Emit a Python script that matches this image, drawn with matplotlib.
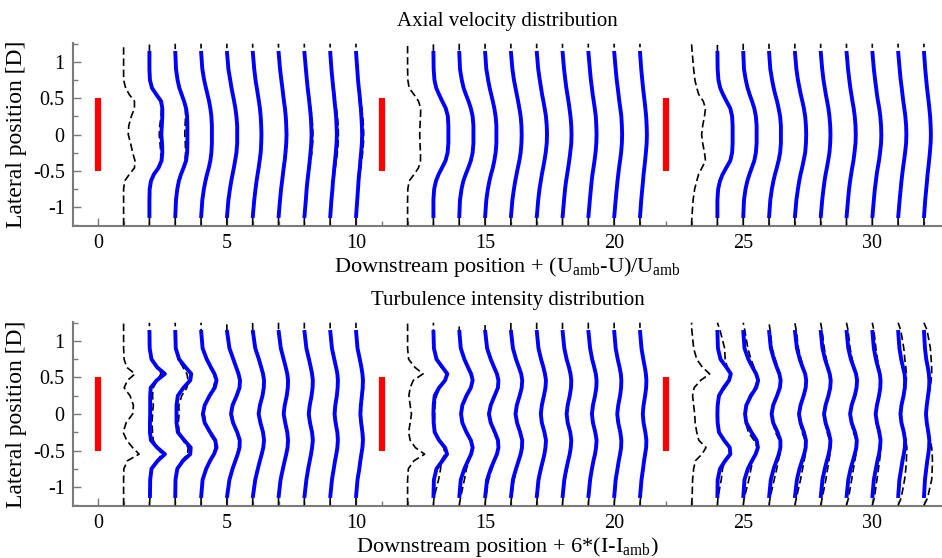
import matplotlib
matplotlib.use("Agg")
import matplotlib.pyplot as plt
import numpy as np
from matplotlib.ticker import MultipleLocator

# lateral positions [D], bottom to top
y_meas = [-1.25, -1.15, -0.9, -0.75, -0.64, -0.55, -0.46, -0.36, -0.25, -0.12, 0,
          0.12, 0.25, 0.36, 0.46, 0.55, 0.64, 0.75, 0.9, 1.15, 1.25]
y_sim = y_meas[1:-1]

turbine_x = [0, 11, 22]
meas_dist = [1, 2, 3, 4, 5, 6, 7, 8, 9, 10]
sim_dist = [2, 3, 4, 5, 6, 7, 8, 9, 10]

# ---- axial velocity deficit (Uamb-U)/Uamb, measured (dashed) ----
vel_meas_t1 = [
    [0, 0, 0, 0, 0.04, 0.22, 0.42, 0.44, 0.35, 0.27, 0.18, 0.2, 0.3, 0.42, 0.42, 0.22, 0.08, 0, 0, 0, 0],
    [0, 0, 0, 0.01, 0.06, 0.17, 0.34, 0.44, 0.44, 0.41, 0.38, 0.4, 0.45, 0.47, 0.42, 0.25, 0.1, 0.02, 0, 0, 0],
    [0, 0, 0.03, 0.08, 0.14, 0.22, 0.31, 0.38, 0.4, 0.39, 0.37, 0.38, 0.4, 0.4, 0.33, 0.24, 0.15, 0.08, 0.03, 0, 0],
    [0, 0, 0.05, 0.11, 0.17, 0.23, 0.3, 0.36, 0.4, 0.41, 0.41, 0.41, 0.39, 0.35, 0.3, 0.24, 0.18, 0.12, 0.05, 0, 0],
    [0, 0, 0.06, 0.12, 0.17, 0.22, 0.27, 0.33, 0.37, 0.4, 0.41, 0.4, 0.37, 0.33, 0.28, 0.23, 0.18, 0.13, 0.06, 0, 0],
    [0, 0, 0.06, 0.11, 0.15, 0.19, 0.24, 0.28, 0.32, 0.35, 0.36, 0.35, 0.32, 0.28, 0.24, 0.2, 0.16, 0.11, 0.06, 0, 0],
    [0, 0, 0.06, 0.1, 0.14, 0.18, 0.22, 0.26, 0.3, 0.33, 0.34, 0.33, 0.3, 0.27, 0.23, 0.19, 0.15, 0.11, 0.06, 0, 0],
    [0, 0, 0.06, 0.1, 0.13, 0.17, 0.21, 0.25, 0.29, 0.32, 0.33, 0.32, 0.29, 0.25, 0.21, 0.17, 0.14, 0.1, 0.06, 0, 0],
    [0, 0, 0.05, 0.09, 0.12, 0.16, 0.2, 0.24, 0.28, 0.31, 0.32, 0.31, 0.28, 0.24, 0.2, 0.17, 0.13, 0.09, 0.05, 0, 0],
    [0, 0, 0.05, 0.08, 0.11, 0.14, 0.18, 0.22, 0.26, 0.29, 0.3, 0.29, 0.26, 0.22, 0.19, 0.15, 0.12, 0.08, 0.05, 0, 0],
]
vel_meas_t2 = [
    [0, 0, 0, 0.01, 0.06, 0.25, 0.42, 0.5, 0.5, 0.48, 0.47, 0.48, 0.5, 0.51, 0.42, 0.25, 0.06, 0.01, 0, 0, 0],
    [0, 0, 0, 0.03, 0.1, 0.2, 0.33, 0.47, 0.55, 0.57, 0.57, 0.57, 0.55, 0.48, 0.34, 0.22, 0.11, 0.04, 0.01, 0, 0],
    [0, 0, 0.03, 0.09, 0.16, 0.25, 0.35, 0.45, 0.52, 0.55, 0.55, 0.55, 0.52, 0.45, 0.36, 0.26, 0.17, 0.1, 0.03, 0, 0],
    [0, 0, 0.05, 0.11, 0.17, 0.23, 0.3, 0.36, 0.42, 0.45, 0.46, 0.45, 0.42, 0.37, 0.3, 0.24, 0.18, 0.12, 0.05, 0, 0],
    [0, 0, 0.06, 0.12, 0.17, 0.22, 0.27, 0.33, 0.39, 0.42, 0.43, 0.42, 0.39, 0.34, 0.28, 0.23, 0.18, 0.12, 0.06, 0, 0],
    [0, 0, 0.06, 0.11, 0.16, 0.2, 0.25, 0.31, 0.37, 0.41, 0.42, 0.41, 0.37, 0.32, 0.26, 0.21, 0.17, 0.12, 0.06, 0, 0],
    [0, 0, 0.06, 0.1, 0.14, 0.18, 0.22, 0.27, 0.32, 0.36, 0.37, 0.36, 0.32, 0.28, 0.23, 0.19, 0.15, 0.11, 0.06, 0, 0],
    [0, 0, 0.06, 0.1, 0.13, 0.16, 0.2, 0.25, 0.29, 0.32, 0.33, 0.32, 0.3, 0.26, 0.21, 0.17, 0.14, 0.1, 0.06, 0, 0],
    [0, 0, 0.06, 0.1, 0.13, 0.16, 0.19, 0.23, 0.28, 0.31, 0.32, 0.31, 0.29, 0.25, 0.2, 0.17, 0.14, 0.1, 0.06, 0, 0],
    [0, 0, 0.05, 0.09, 0.12, 0.14, 0.17, 0.2, 0.24, 0.27, 0.28, 0.27, 0.25, 0.22, 0.18, 0.15, 0.12, 0.09, 0.05, 0, 0],
]
vel_meas_t3 = [
    [0, 0.01, 0.06, 0.12, 0.2, 0.27, 0.4, 0.54, 0.5, 0.43, 0.39, 0.43, 0.5, 0.54, 0.45, 0.28, 0.2, 0.13, 0.08, 0.02, 0],
    [0, 0, 0, 0.03, 0.1, 0.2, 0.34, 0.5, 0.57, 0.59, 0.59, 0.59, 0.57, 0.5, 0.35, 0.22, 0.11, 0.04, 0.01, 0, 0],
    [0, 0, 0.03, 0.09, 0.16, 0.24, 0.33, 0.43, 0.49, 0.52, 0.53, 0.52, 0.49, 0.43, 0.34, 0.25, 0.17, 0.1, 0.03, 0, 0],
    [0, 0, 0.05, 0.11, 0.17, 0.23, 0.3, 0.37, 0.43, 0.46, 0.47, 0.46, 0.43, 0.37, 0.31, 0.24, 0.18, 0.12, 0.05, 0, 0],
    [0, 0, 0.06, 0.12, 0.17, 0.22, 0.28, 0.34, 0.4, 0.43, 0.45, 0.43, 0.4, 0.35, 0.29, 0.23, 0.18, 0.12, 0.06, 0, 0],
    [0, 0, 0.06, 0.11, 0.15, 0.19, 0.24, 0.29, 0.34, 0.38, 0.39, 0.38, 0.35, 0.3, 0.25, 0.2, 0.16, 0.11, 0.06, 0, 0],
    [0, 0, 0.06, 0.1, 0.14, 0.18, 0.22, 0.27, 0.32, 0.36, 0.37, 0.36, 0.33, 0.28, 0.23, 0.19, 0.15, 0.11, 0.06, 0, 0],
    [0, 0, 0.06, 0.1, 0.14, 0.17, 0.21, 0.26, 0.31, 0.35, 0.36, 0.35, 0.32, 0.27, 0.22, 0.18, 0.15, 0.11, 0.06, 0, 0],
    [0, 0, 0.06, 0.1, 0.13, 0.16, 0.2, 0.24, 0.28, 0.32, 0.34, 0.32, 0.29, 0.25, 0.21, 0.17, 0.14, 0.1, 0.06, 0, 0],
    [0, 0, 0.05, 0.09, 0.12, 0.14, 0.17, 0.2, 0.24, 0.27, 0.28, 0.27, 0.24, 0.21, 0.18, 0.15, 0.12, 0.09, 0.05, 0, 0],
]

# ---- axial velocity deficit, simulated (blue) ----
vel_sim_t1 = [
    [0, 0, 0.01, 0.06, 0.17, 0.35, 0.47, 0.5, 0.49, 0.46, 0.48, 0.5, 0.5, 0.45, 0.27, 0.1, 0.02, 0, 0],
    [0, 0.03, 0.08, 0.14, 0.22, 0.32, 0.42, 0.46, 0.47, 0.47, 0.47, 0.46, 0.42, 0.34, 0.25, 0.16, 0.09, 0.03, 0],
    [0, 0.05, 0.11, 0.17, 0.23, 0.3, 0.36, 0.4, 0.42, 0.42, 0.42, 0.4, 0.36, 0.31, 0.25, 0.19, 0.12, 0.05, 0],
    [0, 0.06, 0.12, 0.17, 0.22, 0.27, 0.32, 0.37, 0.4, 0.4, 0.4, 0.37, 0.33, 0.28, 0.23, 0.18, 0.13, 0.06, 0],
    [0, 0.06, 0.11, 0.15, 0.19, 0.23, 0.27, 0.31, 0.33, 0.34, 0.33, 0.31, 0.28, 0.24, 0.2, 0.16, 0.11, 0.06, 0],
    [0, 0.06, 0.1, 0.14, 0.17, 0.2, 0.24, 0.27, 0.3, 0.31, 0.3, 0.28, 0.25, 0.21, 0.18, 0.15, 0.11, 0.06, 0],
    [0, 0.06, 0.09, 0.12, 0.15, 0.18, 0.21, 0.24, 0.27, 0.28, 0.27, 0.25, 0.22, 0.19, 0.16, 0.13, 0.1, 0.06, 0],
    [0, 0.05, 0.09, 0.11, 0.14, 0.16, 0.19, 0.22, 0.25, 0.26, 0.25, 0.23, 0.2, 0.17, 0.15, 0.12, 0.09, 0.05, 0],
    [0, 0.05, 0.08, 0.1, 0.12, 0.15, 0.17, 0.2, 0.23, 0.24, 0.23, 0.21, 0.19, 0.16, 0.14, 0.11, 0.08, 0.05, 0],
]
vel_sim_t2 = [
    [0, 0, 0.03, 0.1, 0.2, 0.33, 0.47, 0.55, 0.58, 0.58, 0.58, 0.56, 0.48, 0.34, 0.22, 0.11, 0.04, 0.01, 0],
    [0, 0.03, 0.09, 0.16, 0.25, 0.35, 0.45, 0.52, 0.55, 0.55, 0.55, 0.52, 0.45, 0.36, 0.26, 0.17, 0.1, 0.03, 0],
    [0, 0.05, 0.11, 0.17, 0.23, 0.3, 0.36, 0.41, 0.44, 0.44, 0.44, 0.41, 0.36, 0.3, 0.24, 0.18, 0.12, 0.05, 0],
    [0, 0.06, 0.12, 0.17, 0.22, 0.27, 0.33, 0.38, 0.41, 0.42, 0.41, 0.38, 0.33, 0.28, 0.23, 0.18, 0.12, 0.06, 0],
    [0, 0.06, 0.11, 0.16, 0.2, 0.25, 0.3, 0.35, 0.39, 0.4, 0.39, 0.36, 0.31, 0.26, 0.21, 0.17, 0.12, 0.06, 0],
    [0, 0.06, 0.1, 0.14, 0.18, 0.22, 0.26, 0.3, 0.34, 0.35, 0.34, 0.31, 0.27, 0.23, 0.19, 0.15, 0.11, 0.06, 0],
    [0, 0.06, 0.1, 0.13, 0.16, 0.2, 0.24, 0.28, 0.31, 0.32, 0.31, 0.29, 0.25, 0.21, 0.17, 0.14, 0.1, 0.06, 0],
    [0, 0.06, 0.1, 0.13, 0.16, 0.19, 0.23, 0.27, 0.3, 0.31, 0.3, 0.28, 0.24, 0.2, 0.17, 0.14, 0.1, 0.06, 0],
    [0, 0.05, 0.09, 0.12, 0.14, 0.17, 0.2, 0.23, 0.26, 0.27, 0.26, 0.24, 0.21, 0.18, 0.15, 0.12, 0.09, 0.05, 0],
]
vel_sim_t3 = [
    [0, 0, 0.03, 0.1, 0.2, 0.34, 0.5, 0.57, 0.59, 0.59, 0.59, 0.57, 0.5, 0.35, 0.22, 0.11, 0.04, 0.01, 0],
    [0, 0.03, 0.09, 0.16, 0.24, 0.33, 0.43, 0.49, 0.52, 0.52, 0.52, 0.49, 0.43, 0.34, 0.25, 0.17, 0.1, 0.03, 0],
    [0, 0.05, 0.11, 0.17, 0.23, 0.3, 0.37, 0.43, 0.46, 0.46, 0.46, 0.43, 0.37, 0.31, 0.24, 0.18, 0.12, 0.05, 0],
    [0, 0.06, 0.12, 0.17, 0.22, 0.28, 0.34, 0.4, 0.43, 0.44, 0.43, 0.4, 0.35, 0.29, 0.23, 0.18, 0.12, 0.06, 0],
    [0, 0.06, 0.11, 0.15, 0.19, 0.24, 0.29, 0.34, 0.37, 0.38, 0.37, 0.34, 0.3, 0.25, 0.2, 0.16, 0.11, 0.06, 0],
    [0, 0.06, 0.1, 0.14, 0.18, 0.22, 0.27, 0.31, 0.35, 0.36, 0.35, 0.32, 0.28, 0.23, 0.19, 0.15, 0.11, 0.06, 0],
    [0, 0.06, 0.1, 0.14, 0.17, 0.21, 0.26, 0.3, 0.34, 0.35, 0.34, 0.31, 0.27, 0.22, 0.18, 0.15, 0.11, 0.06, 0],
    [0, 0.06, 0.1, 0.13, 0.16, 0.19, 0.23, 0.27, 0.31, 0.32, 0.31, 0.28, 0.24, 0.2, 0.17, 0.14, 0.1, 0.06, 0],
    [0, 0.05, 0.09, 0.12, 0.14, 0.17, 0.2, 0.23, 0.26, 0.27, 0.26, 0.24, 0.21, 0.18, 0.15, 0.12, 0.09, 0.05, 0],
]

# ---- turbulence intensity 6*(I-Iamb), measured (dashed) ----
ti_meas_t1 = [
    [0, 0, 0, 0.01, 0.15, 0.6, 0.35, 0.12, -0.02, 0.1, 0.35, 0.38, 0.25, 0.02, 0.15, 0.44, 0.12, 0.02, 0, 0, 0],
    [0, 0.02, 0.03, 0.08, 0.3, 0.48, 0.3, 0.15, 0.12, 0.1, 0.12, 0.15, 0.12, 0.15, 0.3, 0.45, 0.3, 0.1, 0.02, 0, 0],
    [0, 0, 0.02, 0.08, 0.25, 0.48, 0.5, 0.3, 0.15, 0.12, 0.15, 0.14, 0.25, 0.45, 0.5, 0.45, 0.3, 0.12, 0.02, 0, 0],
    [0, 0, 0.06, 0.2, 0.33, 0.48, 0.55, 0.5, 0.3, 0.18, 0.12, 0.16, 0.3, 0.48, 0.55, 0.5, 0.36, 0.22, 0.06, 0, 0],
    [0, 0, 0.1, 0.23, 0.33, 0.42, 0.47, 0.47, 0.38, 0.25, 0.2, 0.24, 0.36, 0.46, 0.48, 0.43, 0.35, 0.25, 0.1, 0, 0],
    [0, 0, 0.1, 0.21, 0.28, 0.36, 0.42, 0.45, 0.4, 0.3, 0.25, 0.29, 0.38, 0.44, 0.45, 0.41, 0.34, 0.25, 0.1, 0, 0],
    [0, 0, 0.09, 0.18, 0.25, 0.31, 0.36, 0.38, 0.35, 0.27, 0.22, 0.25, 0.33, 0.38, 0.38, 0.35, 0.29, 0.21, 0.09, 0, 0],
    [0, 0, 0.09, 0.16, 0.22, 0.27, 0.31, 0.34, 0.31, 0.24, 0.2, 0.23, 0.29, 0.33, 0.34, 0.31, 0.26, 0.19, 0.09, 0, 0],
    [0, 0, 0.08, 0.15, 0.2, 0.25, 0.29, 0.32, 0.3, 0.24, 0.2, 0.22, 0.28, 0.31, 0.32, 0.29, 0.24, 0.17, 0.08, 0, 0],
    [0, 0, 0.08, 0.15, 0.19, 0.23, 0.27, 0.3, 0.28, 0.23, 0.2, 0.22, 0.26, 0.29, 0.3, 0.27, 0.22, 0.16, 0.07, 0, 0],
]
ti_meas_t2 = [
    [0, 0, 0, 0.03, 0.25, 0.66, 0.3, 0.1, 0.04, 0.1, 0.15, 0.1, 0.05, 0.1, 0.22, 0.6, 0.28, 0.04, 0, 0, 0],
    [0, 0.02, 0.2, 0.28, 0.3, 0.45, 0.4, 0.2, 0.08, 0.04, 0.05, 0.06, 0.12, 0.25, 0.45, 0.5, 0.3, 0.12, 0.03, 0, 0],
    [0, 0.05, 0.2, 0.28, 0.38, 0.46, 0.5, 0.42, 0.28, 0.14, 0.1, 0.14, 0.28, 0.44, 0.5, 0.45, 0.34, 0.2, 0.06, 0, 0],
    [0, 0.02, 0.14, 0.27, 0.37, 0.46, 0.5, 0.48, 0.37, 0.24, 0.18, 0.24, 0.37, 0.48, 0.5, 0.45, 0.35, 0.23, 0.1, 0, 0],
    [0, 0.02, 0.12, 0.23, 0.31, 0.38, 0.42, 0.43, 0.35, 0.25, 0.2, 0.25, 0.34, 0.42, 0.43, 0.39, 0.31, 0.21, 0.1, 0, 0],
    [0, 0.02, 0.1, 0.19, 0.26, 0.31, 0.35, 0.36, 0.3, 0.22, 0.18, 0.22, 0.29, 0.35, 0.36, 0.32, 0.27, 0.18, 0.09, 0, 0],
    [0, 0.02, 0.1, 0.18, 0.24, 0.29, 0.33, 0.35, 0.3, 0.22, 0.18, 0.21, 0.29, 0.34, 0.35, 0.32, 0.26, 0.17, 0.09, 0, 0],
    [0, 0.02, 0.09, 0.16, 0.22, 0.27, 0.31, 0.33, 0.28, 0.2, 0.16, 0.2, 0.27, 0.32, 0.33, 0.3, 0.24, 0.16, 0.08, 0, 0],
    [0, 0.02, 0.08, 0.15, 0.2, 0.24, 0.28, 0.29, 0.25, 0.18, 0.14, 0.18, 0.24, 0.28, 0.29, 0.27, 0.22, 0.15, 0.07, 0, 0],
    [0, 0.02, 0.08, 0.14, 0.18, 0.22, 0.25, 0.26, 0.22, 0.16, 0.13, 0.16, 0.21, 0.25, 0.26, 0.24, 0.2, 0.14, 0.07, 0, 0],
]
ti_meas_t3 = [
    [0, 0.02, 0.04, 0.08, 0.15, 0.4, 0.56, 0.28, 0.2, 0.14, 0.12, 0.08, 0.04, 0.1, 0.35, 0.7, 0.42, 0.2, 0.08, 0.01, 0],
    [0, 0.02, 0.15, 0.2, 0.28, 0.45, 0.5, 0.25, 0.06, 0.02, 0.03, 0.03, 0.08, 0.3, 0.48, 0.52, 0.38, 0.3, 0.28, 0.1, 0],
    [0, 0.04, 0.22, 0.3, 0.38, 0.5, 0.55, 0.42, 0.2, 0.1, 0.08, 0.12, 0.25, 0.45, 0.55, 0.52, 0.42, 0.3, 0.18, 0.06, 0],
    [0, 0.04, 0.2, 0.3, 0.36, 0.42, 0.45, 0.4, 0.25, 0.15, 0.12, 0.16, 0.3, 0.42, 0.45, 0.42, 0.34, 0.24, 0.12, 0.04, 0],
    [0, 0.06, 0.22, 0.3, 0.36, 0.41, 0.43, 0.4, 0.28, 0.2, 0.17, 0.22, 0.33, 0.42, 0.44, 0.41, 0.33, 0.24, 0.14, 0.05, 0],
    [0, 0.06, 0.2, 0.27, 0.32, 0.36, 0.38, 0.35, 0.25, 0.17, 0.14, 0.19, 0.29, 0.36, 0.38, 0.36, 0.3, 0.22, 0.14, 0.05, 0],
    [0, 0.08, 0.2, 0.27, 0.32, 0.37, 0.4, 0.38, 0.27, 0.18, 0.15, 0.2, 0.31, 0.38, 0.4, 0.37, 0.3, 0.22, 0.14, 0.06, 0],
    [0, 0.08, 0.18, 0.24, 0.28, 0.31, 0.33, 0.31, 0.24, 0.17, 0.14, 0.18, 0.26, 0.31, 0.33, 0.31, 0.26, 0.2, 0.14, 0.06, 0],
    [0, 0.12, 0.25, 0.3, 0.32, 0.33, 0.34, 0.3, 0.22, 0.15, 0.12, 0.15, 0.22, 0.28, 0.32, 0.32, 0.3, 0.26, 0.22, 0.1, 0],
    [0, 0.14, 0.3, 0.32, 0.33, 0.32, 0.3, 0.25, 0.18, 0.12, 0.1, 0.12, 0.18, 0.24, 0.28, 0.3, 0.3, 0.28, 0.25, 0.12, 0],
]

# ---- turbulence intensity, simulated (blue) ----
ti_sim_t1 = [
    [0.02, 0.03, 0.08, 0.32, 0.6, 0.3, 0.06, 0.02, 0.02, 0.03, 0.03, 0.03, 0.05, 0.28, 0.6, 0.3, 0.08, 0.01, 0],
    [0, 0.01, 0.08, 0.3, 0.58, 0.6, 0.35, 0.1, 0.05, 0.05, 0.05, 0.1, 0.32, 0.58, 0.62, 0.4, 0.15, 0.02, 0],
    [0, 0.06, 0.2, 0.35, 0.5, 0.6, 0.55, 0.35, 0.14, 0.07, 0.14, 0.33, 0.53, 0.6, 0.52, 0.38, 0.22, 0.06, 0],
    [0, 0.1, 0.22, 0.33, 0.42, 0.49, 0.5, 0.4, 0.24, 0.16, 0.22, 0.38, 0.49, 0.51, 0.45, 0.36, 0.25, 0.1, 0],
    [0, 0.1, 0.2, 0.28, 0.35, 0.41, 0.44, 0.4, 0.3, 0.23, 0.28, 0.38, 0.43, 0.44, 0.4, 0.33, 0.24, 0.1, 0],
    [0, 0.08, 0.17, 0.24, 0.3, 0.35, 0.37, 0.34, 0.26, 0.2, 0.24, 0.32, 0.36, 0.37, 0.34, 0.28, 0.2, 0.09, 0],
    [0, 0.08, 0.15, 0.21, 0.26, 0.3, 0.33, 0.3, 0.22, 0.17, 0.21, 0.28, 0.32, 0.33, 0.3, 0.25, 0.18, 0.08, 0],
    [0, 0.07, 0.14, 0.19, 0.24, 0.28, 0.3, 0.28, 0.21, 0.17, 0.2, 0.26, 0.29, 0.3, 0.28, 0.23, 0.16, 0.07, 0],
    [0, 0.06, 0.13, 0.17, 0.21, 0.25, 0.27, 0.25, 0.2, 0.17, 0.19, 0.23, 0.26, 0.27, 0.25, 0.21, 0.15, 0.06, 0],
]
ti_sim_t2 = [
    [0, 0.02, 0.12, 0.35, 0.53, 0.45, 0.22, 0.05, 0.01, 0, 0.01, 0.05, 0.22, 0.45, 0.54, 0.35, 0.12, 0.02, 0],
    [0, 0.06, 0.2, 0.34, 0.46, 0.52, 0.45, 0.28, 0.12, 0.07, 0.12, 0.28, 0.45, 0.52, 0.46, 0.34, 0.2, 0.06, 0],
    [0, 0.08, 0.22, 0.35, 0.46, 0.52, 0.5, 0.38, 0.22, 0.15, 0.22, 0.37, 0.5, 0.52, 0.46, 0.35, 0.22, 0.08, 0],
    [0, 0.08, 0.2, 0.3, 0.38, 0.43, 0.44, 0.36, 0.24, 0.18, 0.23, 0.34, 0.42, 0.44, 0.4, 0.31, 0.2, 0.08, 0],
    [0, 0.07, 0.16, 0.24, 0.3, 0.34, 0.36, 0.3, 0.2, 0.16, 0.2, 0.28, 0.34, 0.36, 0.32, 0.26, 0.17, 0.07, 0],
    [0, 0.07, 0.15, 0.22, 0.28, 0.32, 0.34, 0.3, 0.2, 0.16, 0.2, 0.28, 0.33, 0.34, 0.31, 0.25, 0.16, 0.07, 0],
    [0, 0.07, 0.14, 0.2, 0.26, 0.3, 0.32, 0.27, 0.18, 0.14, 0.18, 0.26, 0.31, 0.32, 0.29, 0.23, 0.15, 0.07, 0],
    [0, 0.06, 0.13, 0.18, 0.23, 0.27, 0.28, 0.24, 0.16, 0.12, 0.16, 0.23, 0.27, 0.28, 0.26, 0.21, 0.14, 0.06, 0],
    [0, 0.06, 0.12, 0.16, 0.2, 0.24, 0.25, 0.21, 0.14, 0.11, 0.14, 0.2, 0.24, 0.25, 0.23, 0.19, 0.13, 0.06, 0],
]
ti_sim_t3 = [
    [0, 0.01, 0.1, 0.3, 0.5, 0.48, 0.26, 0.06, 0.01, 0, 0.01, 0.06, 0.24, 0.45, 0.52, 0.35, 0.12, 0.02, 0],
    [0, 0.05, 0.18, 0.34, 0.48, 0.57, 0.52, 0.32, 0.12, 0.07, 0.12, 0.3, 0.5, 0.58, 0.5, 0.36, 0.2, 0.05, 0],
    [0, 0.07, 0.18, 0.29, 0.38, 0.44, 0.44, 0.33, 0.16, 0.1, 0.16, 0.31, 0.42, 0.45, 0.4, 0.3, 0.19, 0.07, 0],
    [0, 0.08, 0.18, 0.28, 0.36, 0.42, 0.43, 0.35, 0.22, 0.16, 0.22, 0.34, 0.42, 0.44, 0.4, 0.3, 0.19, 0.08, 0],
    [0, 0.07, 0.16, 0.24, 0.31, 0.36, 0.38, 0.31, 0.19, 0.13, 0.19, 0.3, 0.37, 0.39, 0.35, 0.27, 0.17, 0.07, 0],
    [0, 0.07, 0.16, 0.25, 0.32, 0.38, 0.4, 0.33, 0.2, 0.14, 0.2, 0.32, 0.39, 0.41, 0.37, 0.28, 0.17, 0.07, 0],
    [0, 0.06, 0.14, 0.2, 0.26, 0.3, 0.32, 0.27, 0.18, 0.13, 0.18, 0.26, 0.31, 0.32, 0.29, 0.22, 0.14, 0.06, 0],
    [0, 0.05, 0.12, 0.17, 0.22, 0.26, 0.27, 0.22, 0.13, 0.09, 0.13, 0.21, 0.26, 0.27, 0.25, 0.19, 0.12, 0.05, 0],
    [0, 0.04, 0.09, 0.13, 0.17, 0.2, 0.21, 0.17, 0.11, 0.08, 0.11, 0.16, 0.2, 0.21, 0.19, 0.15, 0.09, 0.04, 0],
]

plt.rcParams['font.family'] = 'Liberation Serif'
plt.rcParams['mathtext.fontset'] = 'custom'
plt.rcParams['mathtext.rm'] = 'Liberation Serif'
plt.rcParams['mathtext.it'] = 'Liberation Serif:italic'

W, H = 942, 558
fig = plt.figure(figsize=(W / 100, H / 100), dpi=100)
ax_vel = fig.add_axes([73 / W, 1 - 226 / H, 1 - 73 / W, (226 - 43) / H])
ax_ti = fig.add_axes([73 / W, 1 - 506 / H, 1 - 73 / W, (506 - 322) / H])

spine_col = '#7a7a7a'


def draw_panel(ax, meas_sets, sim_sets, title, xlabel):
    for x0, meas_rows, sim_rows in zip(turbine_x, meas_sets, sim_sets):
        # rotor disc
        ax.plot([x0, x0], [-0.5, 0.5], color='#ff0000', lw=4.5, solid_capstyle='butt', zorder=2)
        # measurements (dashed) sit under the simulation lines
        for d, row in zip(meas_dist, meas_rows):
            ax.plot(x0 + d + np.array(row), y_meas, color='black', lw=1.2,
                    dashes=(4.5, 2.2), zorder=3)
        for d, row in zip(sim_dist, sim_rows):
            ax.plot(x0 + d + np.array(row), y_sim, color='#0000ff', lw=2.8,
                    solid_capstyle='butt', zorder=4)

    ax.set_xlim(-0.96, 32.7)
    ax.set_ylim(-1.26, 1.26)
    ax.set_yticks([-1, -0.5, 0, 0.5, 1])
    ax.set_yticklabels(['-1', '-0.5', '0', '0.5', '1'])
    ax.set_xticks([0, 5, 10, 15, 20, 25, 30])
    ax.xaxis.set_minor_locator(MultipleLocator(1))
    ax.yaxis.set_minor_locator(MultipleLocator(0.25))
    ax.tick_params(which='both', direction='in', color=spine_col, labelsize=14.5, width=1)
    ax.tick_params(which='major', length=6, pad=6)
    ax.tick_params(which='minor', length=3.5)
    for side in ['top', 'right']:
        ax.spines[side].set_visible(False)
    for side in ['left', 'bottom']:
        ax.spines[side].set_color(spine_col)
        ax.spines[side].set_linewidth(1.5)

    ax.set_title(title, fontsize=15, pad=12)
    ax.set_xlabel(xlabel, fontsize=16, labelpad=1)
    ax.set_ylabel('Lateral position [D]', fontsize=17, labelpad=4)


draw_panel(ax_vel, [vel_meas_t1, vel_meas_t2, vel_meas_t3],
           [vel_sim_t1, vel_sim_t2, vel_sim_t3],
           'Axial velocity distribution',
           r'Downstream position + (U$_{\rm amb}$-U)/U$_{\rm amb}$')
draw_panel(ax_ti, [ti_meas_t1, ti_meas_t2, ti_meas_t3],
           [ti_sim_t1, ti_sim_t2, ti_sim_t3],
           'Turbulence intensity distribution',
           r'Downstream position + 6*(I-I$_{\rm amb}$)')

fig.savefig('out.png', dpi=100)
